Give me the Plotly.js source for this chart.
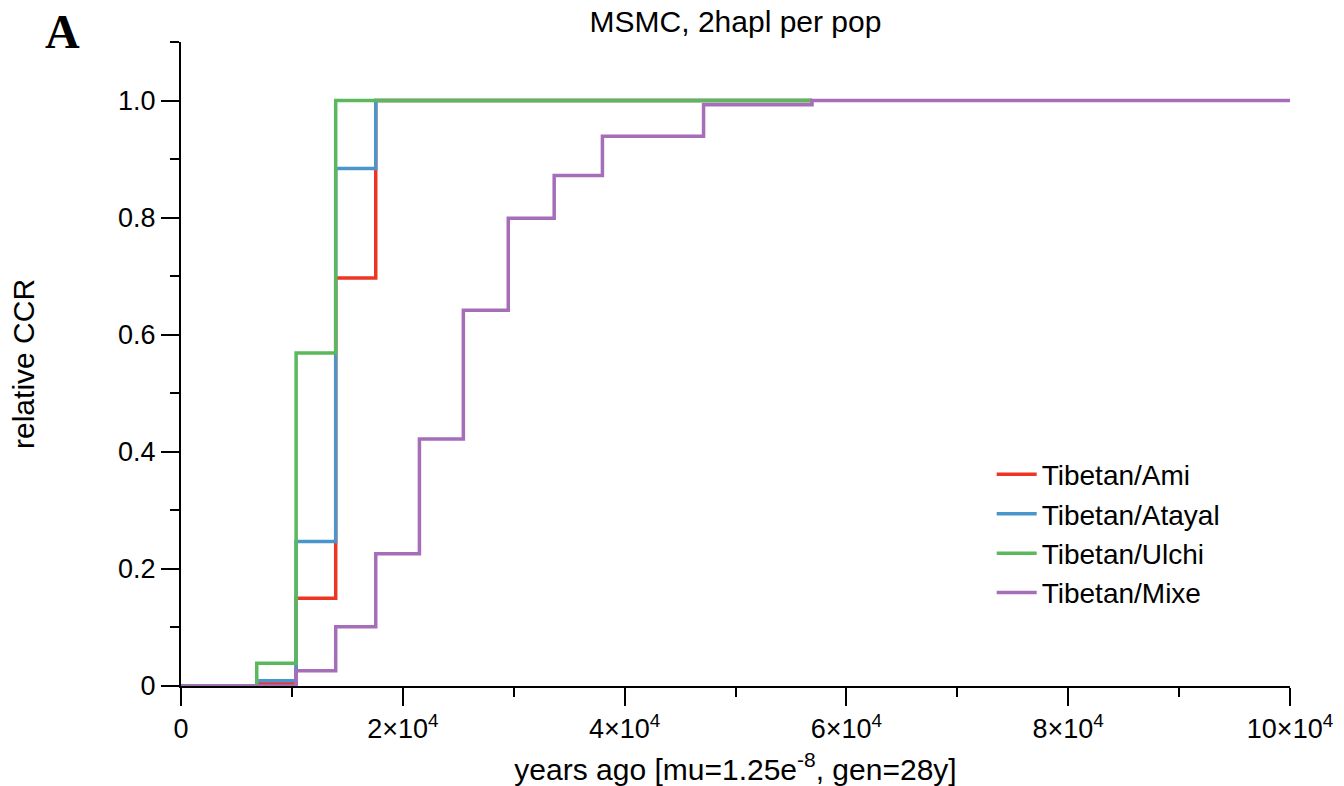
<!DOCTYPE html>
<html>
<head>
<meta charset="utf-8">
<script src="https://cdn.plot.ly/plotly-3.0.1.min.js"></script>
<style>html,body{margin:0;padding:0;background:#fff;}#chart{width:1344px;height:786px;}</style>
</head>
<body>
<div id="chart"></div>
<script>
// Segment boundaries (years ago)
const timeEdges = [0, 6830, 10380, 13950, 17560, 21500, 25460, 29510, 33650, 38000, 47120, 56900, 100000];
// relative CCR per segment (step function)
const ccrAmi    = [0, 0.004, 0.150, 0.697, 1, 1, 1, 1, 1, 1, 1, 1];
const ccrAtayal = [0, 0.009, 0.247, 0.884, 1, 1, 1, 1, 1, 1, 1, 1];
const ccrUlchi  = [0, 0.039, 0.569, 1, 1, 1, 1, 1, 1, 1, 1, 1];
const ccrMixe   = [0, 0, 0.026, 0.101, 0.226, 0.422, 0.642, 0.799, 0.872, 0.939, 0.993, 1, 1];
const seriesNames = ["Tibetan/Ami", "Tibetan/Atayal", "Tibetan/Ulchi", "Tibetan/Mixe"];
const seriesColors = ["#EE3524", "#4A96CB", "#5CB85C", "#A66DB8"];
const xTickVals = [0, 20000, 40000, 60000, 80000, 100000];
const xTickText = ["0", "2×10<sup>4</sup>", "4×10<sup>4</sup>", "6×10<sup>4</sup>", "8×10<sup>4</sup>", "10×10<sup>4</sup>"];
const yTickVals = [0, 0.2, 0.4, 0.6, 0.8, 1.0];
const yTickText = ["0", "0.2", "0.4", "0.6", "0.8", "1.0"];

const allSeries = [ccrAmi, ccrAtayal, ccrUlchi, ccrMixe];
const traces = allSeries.map((vals, i) => ({
  type: "scatter",
  mode: "lines",
  name: seriesNames[i],
  x: timeEdges.slice(0, vals.length),
  y: vals,
  line: {shape: "hv", color: seriesColors[i], width: 3.5},
  cliponaxis: false
}));

const FONT = "Liberation Sans, Arial, Helvetica, sans-serif";
const layout = {
  width: 1344, height: 786,
  paper_bgcolor: "#fff", plot_bgcolor: "#fff",
  margin: {l: 181, r: 54, t: 42, b: 100},
  font: {family: FONT, size: 27, color: "#000"},
  title: {text: "MSMC, 2hapl per pop", font: {family: FONT, size: 30, color: "#000"},
          x: 0.5, xref: "paper", y: 0.973, yref: "container", yanchor: "middle"},
  showlegend: true,
  legend: {x: 0.731, y: 0.367, xanchor: "left", yanchor: "top", bgcolor: "rgba(0,0,0,0)",
           itemwidth: 40,
           font: {family: FONT, size: 28, color: "#000"}, tracegroupgap: 0},
  xaxis: {
    range: [0, 100000], showgrid: false, zeroline: false,
    showline: true, linecolor: "#000", linewidth: 2,
    tickmode: "array", tickvals: xTickVals, ticktext: xTickText,
    ticks: "outside", ticklen: 18, tickwidth: 2, tickcolor: "#000",
    minor: {tick0: 0, dtick: 10000, ticks: "outside", ticklen: 9, tickwidth: 2, tickcolor: "#000", showgrid: false},
    tickfont: {family: FONT, size: 27, color: "#000"},
    title: {text: "years ago [mu=1.25e<sup>-8</sup>, gen=28y]", font: {family: FONT, size: 30, color: "#000"}},
    layer: "above traces"
  },
  yaxis: {
    range: [0, 1.1], showgrid: false, zeroline: false,
    showline: true, linecolor: "#000", linewidth: 2,
    tickmode: "array", tickvals: yTickVals, ticktext: yTickText,
    ticks: "outside", ticklen: 18, tickwidth: 2, tickcolor: "#000",
    minor: {tick0: 0, dtick: 0.1, ticks: "outside", ticklen: 9, tickwidth: 2, tickcolor: "#000", showgrid: false},
    tickfont: {family: FONT, size: 27, color: "#000"},
    layer: "above traces"
  },
  annotations: [{
    text: "<b>A</b>", xref: "paper", yref: "paper", x: -0.107, y: 1.016,
    xanchor: "center", yanchor: "middle", showarrow: false,
    font: {family: "Liberation Serif, Times New Roman, serif", size: 48, color: "#000"}
  }, {
    text: "relative CCR", xref: "paper", yref: "paper", x: -0.1425, y: 0.5,
    xanchor: "center", yanchor: "middle", textangle: -90, showarrow: false,
    font: {family: FONT, size: 30, color: "#000"}
  }]
};

Plotly.newPlot("chart", traces, layout, {displayModeBar: false, staticPlot: true});
</script>
</body>
</html>
